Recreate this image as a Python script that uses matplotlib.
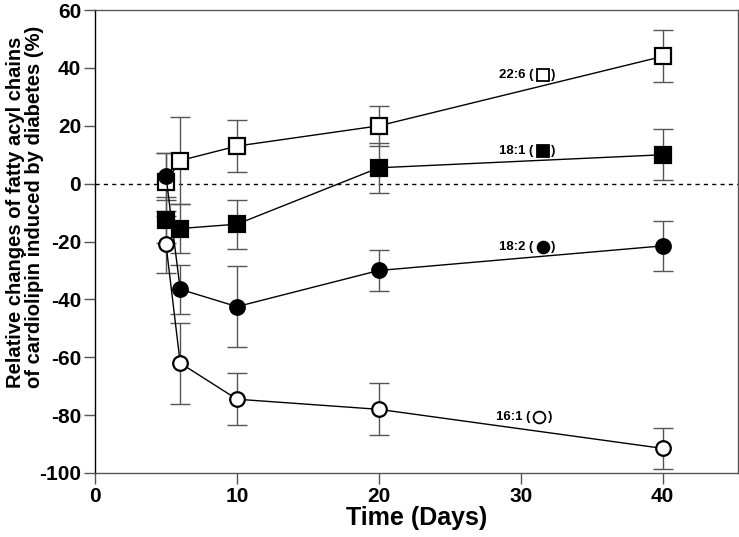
import matplotlib.pyplot as plt

# days at which samples were taken
days = [5, 6, 10, 20, 40]

# relative change (%) and error for each fatty acyl chain
c226 = [0.5, 8, 13, 20, 44]
c226_err = [10, 15, 9, 7, 9]
c181 = [-12.5, -15.5, -14, 5.5, 10]
c181_err = [8, 8.5, 8.5, 8.7, 8.8]
c182 = [2.5, -36.5, -42.5, -30, -21.5]
c182_err = [8, 8.5, 14, 7, 8.6]
c161 = [-21, -62, -74.5, -78, -91.5]
c161_err = [10, 14, 9, 9, 7]

names = ['22:6', '18:1', '18:2', '16:1']
label_x = [31.55, 31.55, 31.55, 31.3]
label_y = [37.5, 11.4, -21.8, -80.5]

plt.rcParams['font.family'] = ['Liberation Sans', 'DejaVu Sans']
plt.rcParams['font.weight'] = 'bold'
plt.rcParams['axes.unicode_minus'] = False

fig = plt.figure(figsize=(7.39, 5.37), dpi=100)
ax = fig.add_axes([0.1286, 0.1192, 0.870, 0.862])

series = [
    (c226, c226_err, 's', 'white', 11),
    (c181, c181_err, 's', 'black', 11),
    (c182, c182_err, 'o', 'black', 10.5),
    (c161, c161_err, 'o', 'white', 10.5),
]

ax.axhline(0, color='black', linestyle=(0, (3, 3)), linewidth=1, zorder=1)

for vals, errs, m, fc, ms in series:
    ax.errorbar(days, vals, yerr=errs, fmt='none', ecolor='#555555',
                elinewidth=1, capsize=7, capthick=1, zorder=2)
    ax.plot(days, vals, color='black', linewidth=1, marker=m, markersize=ms,
            markerfacecolor=fc, markeredgecolor='black', markeredgewidth=1.6,
            zorder=3)

# in-plot labels: "name (" + marker + ")"
for name, lx, ly, (vals, errs, m, fc, ms) in zip(names, label_x, label_y, series):
    ax.plot([lx], [ly], linestyle='none', marker=m, markersize=8.5,
            markerfacecolor=fc, markeredgecolor='black', markeredgewidth=1.3,
            zorder=4)
    ax.annotate(name + ' (', xy=(lx, ly), xytext=(-6.5, 0),
                textcoords='offset points', ha='right', va='center',
                fontsize=9.5, fontweight='bold')
    ax.annotate(')', xy=(lx, ly), xytext=(6, 0),
                textcoords='offset points', ha='left', va='center',
                fontsize=9.5, fontweight='bold')

ax.set_xlim(0, 45.3)
ax.set_ylim(-100, 60)
ax.set_xticks([0, 10, 20, 30, 40])
ax.set_yticks(range(-100, 61, 20))

for s in ax.spines.values():
    s.set_color('#555555')
    s.set_linewidth(1)
ax.spines['left'].set_color('black')

ax.tick_params(direction='out', length=8, width=1, color='#555555',
               labelsize=15, pad=2)
for t in ax.get_xticklabels() + ax.get_yticklabels():
    t.set_fontweight('bold')

ax.set_xlabel('Time (Days)', fontsize=18, fontweight='bold', labelpad=0)
ax.set_ylabel('Relative changes of fatty acyl chains\nof cardiolipin induced by diabetes (%)',
              fontsize=14.5, fontweight='bold', linespacing=1.0,
              multialignment='left')
ax.yaxis.set_label_coords(-0.08, 0.575)

fig.savefig('out.png', dpi=100)
